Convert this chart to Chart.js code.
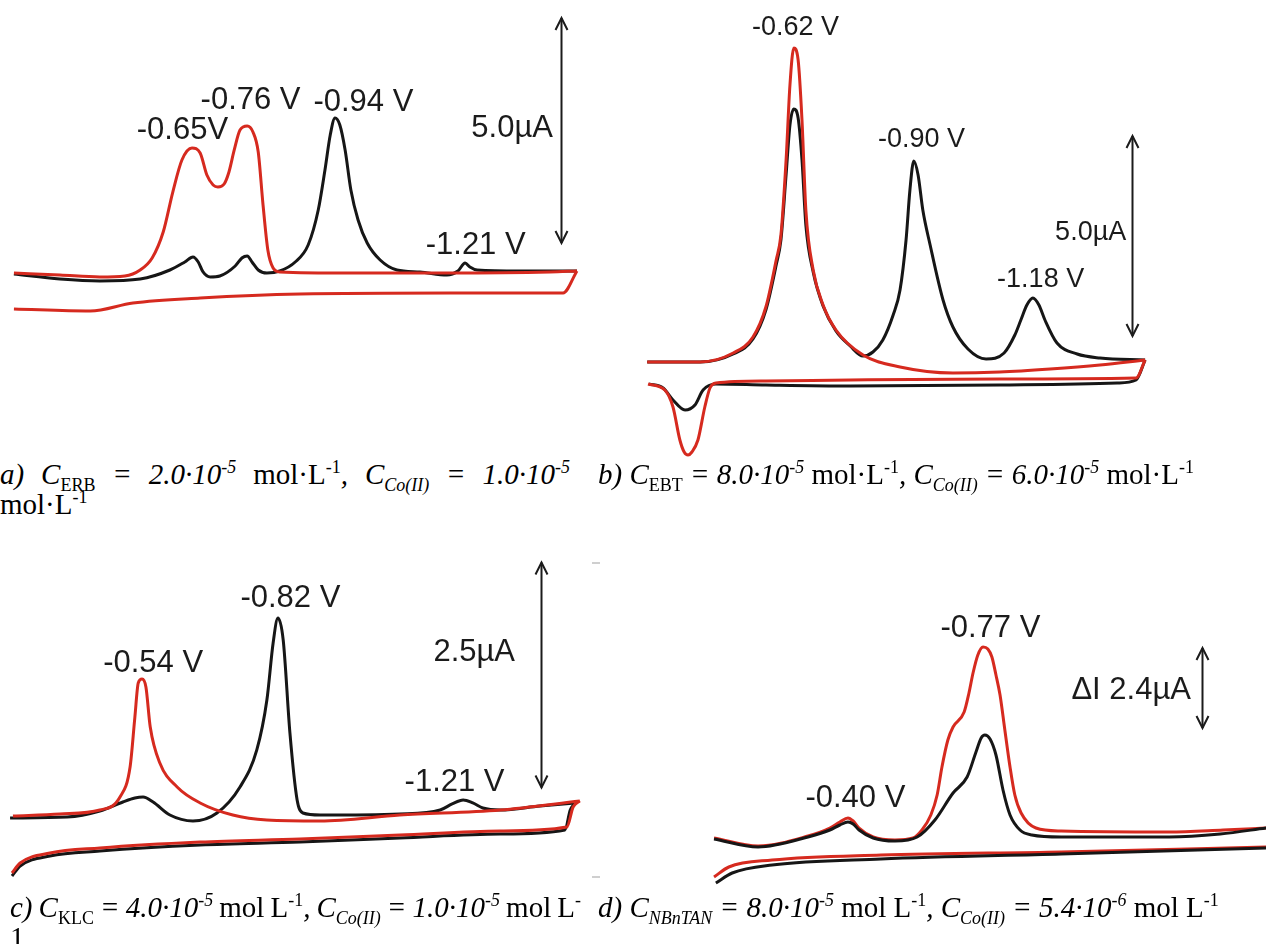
<!DOCTYPE html>
<html>
<head>
<meta charset="utf-8">
<script src="https://cdn.jsdelivr.net/npm/chart.js@4.4.1/dist/chart.umd.min.js"></script>
<style>
html, body { margin: 0; padding: 0; background: #fff; }
#page { position: relative; width: 1266px; height: 944px; overflow: hidden; background: #fff; }
canvas { position: absolute; }
.cap { position: absolute; font-family: 'Liberation Serif', serif; font-size: 29px; line-height: 30px; color: #000; white-space: nowrap; }
.cap sub, .cap sup { font-size: 62%; line-height: 0; }
.tick { position: absolute; width: 8px; height: 2px; background: #cfcfcf; }
</style>
</head>
<body>
<div id="page">
  <canvas id="chartA" width="633" height="450" style="left:0;top:0"></canvas>
  <canvas id="chartB" width="633" height="460" style="left:633px;top:0"></canvas>
  <canvas id="chartC" width="633" height="360" style="left:0;top:540px"></canvas>
  <canvas id="chartD" width="633" height="360" style="left:633px;top:540px"></canvas>

  <div class="cap" style="left:0;top:459px">
    <div class="fit" data-width="570"><i>a)</i> <i>C</i><sub>ERB</sub> <i>=</i> <i>2.0·10<sup>-5</sup></i> mol·L<sup>-1</sup><i>,</i> <i>C<sub>Co(II)</sub></i> <i>=</i> <i>1.0·10<sup>-5</sup></i></div>
    <div>mol·L<sup>-1</sup></div>
  </div>
  <div class="cap" style="left:598px;top:459px"><i>b) C</i><sub>EBT</sub><i> = 8.0·10<sup>-5</sup></i> mol·L<sup>-1</sup><i>, C<sub>Co(II)</sub> = 6.0·10<sup>-5</sup></i> mol·L<sup>-1</sup></div>
  <div class="cap" style="left:10px;top:892px">
    <div class="fit" data-width="571"><i>c) C</i><sub>KLC</sub><i> = 4.0·10<sup>-5</sup></i> mol L<sup>-1</sup><i>, C<sub>Co(II)</sub> = 1.0·10<sup>-5</sup></i> mol L<sup>-</sup></div>
    <div>1</div>
  </div>
  <div class="cap" style="left:598px;top:892px"><i>d) C<sub>NBnTAN</sub> = 8.0·10<sup>-5</sup></i> mol L<sup>-1</sup><i>, C<sub>Co(II)</sub> = 5.4·10<sup>-6</sup></i> mol L<sup>-1</sup></div>
  <div class="tick" style="left:592px;top:562px"></div>
  <div class="tick" style="left:592px;top:876px"></div>
</div>

<script>
// potentials in V, currents in µA
const RED = '#d62a1f';
const BLACK = '#161616';

// a) ERB + Co(II)
const aRedScan = [[-0.279,-0.067],[-0.375,-0.111],[-0.458,-0.156],[-0.510,-0.133],[-0.542,0],[-0.567,0.267],[-0.590,0.844],[-0.610,1.733],[-0.629,2.444],[-0.650,2.711],[-0.667,2.600],[-0.681,2.111],[-0.694,1.889],[-0.704,1.844],[-0.717,1.911],[-0.727,2.178],[-0.738,2.667],[-0.750,3.111],[-0.765,3.200],[-0.777,3.067],[-0.788,2.622],[-0.798,1.444],[-0.808,0.444],[-0.819,0.044],[-0.833,-0.044],[-0.979,-0.067],[-1.188,-0.067],[-1.396,-0.044],[-1.452,-0.022]];
const aRedReturn = [[-1.452,-0.022],[-1.423,-0.511],[-1.188,-0.511],[-0.875,-0.533],[-0.667,-0.622],[-0.527,-0.733],[-0.438,-0.911],[-0.279,-0.867]];
const aBlackScan = [[-0.279,-0.089],[-0.375,-0.200],[-0.458,-0.244],[-0.542,-0.200],[-0.604,0],[-0.635,0.178],[-0.652,0.289],[-0.663,0.178],[-0.673,-0.044],[-0.688,-0.156],[-0.708,-0.133],[-0.740,0.089],[-0.754,0.267],[-0.765,0.311],[-0.775,0.178],[-0.788,0],[-0.806,-0.067],[-0.833,-0.022],[-0.865,0.178],[-0.892,0.556],[-0.913,1.333],[-0.927,2.222],[-0.938,3.000],[-0.948,3.378],[-0.958,3.222],[-0.969,2.667],[-0.981,1.778],[-0.996,1.111],[-1.015,0.600],[-1.042,0.222],[-1.077,0],[-1.125,-0.044],[-1.181,-0.111],[-1.204,-0.022],[-1.219,0.156],[-1.229,0.067],[-1.244,0],[-1.333,-0.022],[-1.452,-0.022]];
const aPeakText = ['-0.65V', '-0.76 V', '-0.94 V', '-1.21 V'];
const aPeakE = [-0.630, -0.772, -1.007, -1.241];
const aPeakI = [3.111, 3.778, 3.733, 0.556];

// b) EBT + Co(II)
const bRedScan = [[-0.283,-0.05],[-0.406,-0.05],[-0.483,0.175],[-0.529,0.575],[-0.559,1.325],[-0.583,2.5],[-0.594,3.125],[-0.606,5.0],[-0.615,6.875],[-0.624,7.8],[-0.634,7.5],[-0.643,6.0],[-0.652,3.75],[-0.669,2.25],[-0.692,1.375],[-0.722,0.75],[-0.785,0.125],[-0.871,-0.175],[-0.994,-0.325],[-1.103,-0.3],[-1.220,-0.225],[-1.336,-0.125],[-1.441,0]];
const bRedReturn = [[-1.441,0],[-1.420,-0.45],[-1.103,-0.475],[-0.755,-0.5],[-0.559,-0.525],[-0.443,-0.575],[-0.429,-0.7],[-0.417,-1.175],[-0.401,-2.0],[-0.387,-2.3],[-0.378,-2.375],[-0.369,-2.3],[-0.359,-2.0],[-0.343,-1.175],[-0.324,-0.75],[-0.285,-0.6]];
const bBlackScan = [[-0.283,-0.05],[-0.406,-0.05],[-0.483,0.15],[-0.529,0.525],[-0.559,1.25],[-0.583,2.375],[-0.594,3.0],[-0.606,4.625],[-0.615,5.875],[-0.624,6.275],[-0.634,6.05],[-0.643,5.0],[-0.652,3.375],[-0.669,2.2],[-0.692,1.35],[-0.722,0.725],[-0.755,0.35],[-0.785,0.1],[-0.808,0.2],[-0.831,0.5],[-0.855,1.125],[-0.871,1.75],[-0.885,3.0],[-0.894,4.25],[-0.903,4.975],[-0.913,4.625],[-0.924,3.75],[-0.941,2.875],[-0.971,1.5],[-0.994,0.825],[-1.029,0.275],[-1.071,0.025],[-1.113,0.175],[-1.138,0.625],[-1.152,1.0],[-1.166,1.375],[-1.180,1.55],[-1.194,1.375],[-1.208,1.0],[-1.236,0.425],[-1.283,0.15],[-1.336,0.05],[-1.441,0]];
const bBlackReturn = [[-1.441,0],[-1.420,-0.5],[-1.376,-0.575],[-1.103,-0.625],[-0.755,-0.65],[-0.559,-0.625],[-0.443,-0.6],[-0.413,-0.75],[-0.394,-1.125],[-0.371,-1.25],[-0.343,-1.0],[-0.320,-0.7],[-0.287,-0.6]];
const bPeakText = ['-0.62 V', '-0.90 V', '-1.18 V'];
const bPeakE = [-0.628, -0.921, -1.198];
const bPeakI = [8.3, 5.5, 2.0];

// c) KLC + Co(II)
const cRedScan = [[-0.272,-0.067],[-0.370,-0.044],[-0.453,0],[-0.495,0.144],[-0.516,0.478],[-0.526,1.033],[-0.533,1.411],[-0.541,1.456],[-0.549,1.367],[-0.558,0.922],[-0.578,0.522],[-0.614,0.256],[-0.662,0.078],[-0.730,-0.056],[-0.801,-0.111],[-0.912,-0.122],[-1.078,-0.056],[-1.287,0],[-1.453,0.1]];
const cRedReturn = [[-1.453,0.1],[-1.439,0.033],[-1.426,-0.189],[-1.287,-0.233],[-1.078,-0.278],[-0.870,-0.322],[-0.662,-0.356],[-0.453,-0.422],[-0.349,-0.478],[-0.287,-0.589],[-0.270,-0.7]];
const cBlackScan = [[-0.266,-0.089],[-0.385,-0.078],[-0.453,-0.011],[-0.501,0.089],[-0.526,0.133],[-0.543,0.144],[-0.564,0.089],[-0.599,-0.056],[-0.647,-0.122],[-0.697,-0.033],[-0.745,0.256],[-0.780,0.667],[-0.801,1.222],[-0.814,1.856],[-0.824,2.133],[-0.835,1.889],[-0.849,0.856],[-0.864,0.111],[-0.876,-0.033],[-0.912,-0.056],[-1.078,-0.044],[-1.162,0],[-1.187,0.067],[-1.210,0.111],[-1.230,0.078],[-1.251,0.022],[-1.287,0],[-1.370,0.044],[-1.443,0.078]];
const cBlackReturn = [[-1.443,0.078],[-1.433,0],[-1.422,-0.222],[-1.287,-0.267],[-1.078,-0.311],[-0.870,-0.356],[-0.662,-0.389],[-0.453,-0.456],[-0.349,-0.511],[-0.287,-0.622],[-0.270,-0.733]];
const cPeakText = ['-0.54 V', '-0.82 V', '-1.21 V'];
const cPeakE = [-0.564, -0.850, -1.192];
const cPeakI = [1.633, 2.356, 0.311];

// d) NBnTAN + Co(II)
const dRedScan = [[-0.039,0.06],[-0.158,-0.18],[-0.293,0.12],[-0.352,0.36],[-0.379,0.54],[-0.401,0.66],[-0.415,0.57],[-0.431,0.36],[-0.469,0.09],[-0.528,0],[-0.577,0.06],[-0.601,0.30],[-0.625,0.75],[-0.642,1.35],[-0.655,2.19],[-0.671,3.00],[-0.685,3.39],[-0.715,3.84],[-0.728,4.41],[-0.739,5.01],[-0.752,5.55],[-0.766,5.79],[-0.779,5.73],[-0.790,5.49],[-0.801,4.95],[-0.812,4.35],[-0.825,3.30],[-0.839,2.19],[-0.852,1.35],[-0.869,0.81],[-0.909,0.36],[-0.977,0.27],[-1.269,0.24],[-1.415,0.30],[-1.531,0.36]];
const dRedReturn = [[-0.039,-1.11],[-0.079,-0.81],[-0.196,-0.60],[-0.490,-0.45],[-0.977,-0.36],[-1.531,-0.21]];
const dBlackScan = [[-0.039,0.03],[-0.158,-0.21],[-0.293,0.09],[-0.352,0.30],[-0.379,0.45],[-0.401,0.54],[-0.415,0.48],[-0.431,0.30],[-0.469,0.06],[-0.528,-0.03],[-0.588,0.09],[-0.636,0.60],[-0.685,1.41],[-0.723,1.89],[-0.747,2.64],[-0.761,3.06],[-0.771,3.15],[-0.785,3.03],[-0.801,2.55],[-0.820,1.50],[-0.839,0.75],[-0.866,0.30],[-0.898,0.15],[-0.977,0.09],[-1.269,0.09],[-1.407,0.18],[-1.531,0.36]];
const dBlackReturn = [[-0.044,-1.29],[-0.088,-0.99],[-0.196,-0.75],[-0.490,-0.57],[-0.977,-0.42],[-1.531,-0.24]];
const dPeakText = ['-0.40 V', '-0.77 V'];
const dPeakE = [-0.421, -0.786];
const dPeakI = [1.26, 6.36];

// current scale bars: text, its position, bar potential, bar low/high current
const barText = ['5.0µA', '5.0µA', '2.5µA', 'ΔI 2.4µA'];
const barTextE = [-1.402, -1.397, -1.318, -1.328];
const barTextI = [3.156, 3.175, 1.756, 4.5];
const barE = [-1.419, -1.410, -1.372, -1.358];
const barLow = [0.6, 0.6, 0.25, 3.36];
const barHigh = [5.6, 5.6, 2.75, 5.76];

function curve(points, color) {
    return {
        data: points.map(p => ({ x: p[0], y: p[1] })),
        showLine: true,
        borderColor: color,
        borderWidth: 3,
        pointRadius: 0,
        cubicInterpolationMode: 'monotone',
        fill: false,
        clip: false
    };
}

function drawArrowHead(ctx, x, y, dir) {
    ctx.beginPath();
    ctx.moveTo(x - 6, y + dir * 12);
    ctx.lineTo(x, y);
    ctx.lineTo(x + 6, y + dir * 12);
    ctx.stroke();
}

const marksPlugin = {
    id: 'marks',
    afterDatasetsDraw(chart, args, opts) {
        const { ctx } = chart;
        const xs = chart.scales.x;
        const ys = chart.scales.y;
        const k = opts.bar;
        ctx.save();
        ctx.fillStyle = '#1b1b1b';
        ctx.strokeStyle = '#1b1b1b';
        ctx.font = `${opts.size}px "Liberation Sans", Arial, sans-serif`;
        ctx.textBaseline = 'middle';
        ctx.textAlign = 'center';
        opts.text.forEach((t, i) => {
            ctx.fillText(t, xs.getPixelForValue(opts.e[i]), ys.getPixelForValue(opts.i[i]));
        });
        ctx.textAlign = 'right';
        ctx.fillText(barText[k], xs.getPixelForValue(barTextE[k]), ys.getPixelForValue(barTextI[k]));

        const ax = Math.round(xs.getPixelForValue(barE[k])) + 0.5;
        const top = ys.getPixelForValue(barHigh[k]);
        const bottom = ys.getPixelForValue(barLow[k]);
        ctx.lineWidth = 2;
        ctx.beginPath();
        ctx.moveTo(ax, top);
        ctx.lineTo(ax, bottom);
        ctx.stroke();
        drawArrowHead(ctx, ax, top, 1);
        drawArrowHead(ctx, ax, bottom, -1);
        ctx.restore();
    }
};

function makePanel(id, xRange, yRange, datasets, marks) {
    const ctx = document.getElementById(id).getContext('2d');
    return new Chart(ctx, {
        type: 'scatter',
        data: { datasets },
        options: {
            responsive: false,
            animation: false,
            devicePixelRatio: 1,
            layout: { padding: 0 },
            plugins: {
                legend: { display: false },
                tooltip: { enabled: false },
                marks
            },
            scales: {
                x: { type: 'linear', display: false, reverse: true, min: xRange[0], max: xRange[1] },
                y: { type: 'linear', display: false, min: yRange[0], max: yRange[1] }
            }
        },
        plugins: [marksPlugin]
    });
}

// stretch the first caption lines to the column width, like justified text
function fitCaptionLines() {
    document.querySelectorAll('.fit').forEach(el => {
        el.style.display = 'inline-block';
        const natural = el.getBoundingClientRect().width;
        const gaps = el.textContent.replace(/\s+/g, ' ').trim().split(' ').length - 1;
        if (gaps > 0) el.style.wordSpacing = ((Number(el.dataset.width) - natural) / gaps) + 'px';
        el.style.display = 'block';
    });
}

document.addEventListener('DOMContentLoaded', () => {
    fitCaptionLines();

    // first dataset is painted on top
    makePanel('chartA', [-1.56875, -0.25], [-4, 6],
        [curve(aRedScan, RED), curve(aRedReturn, RED), curve(aBlackScan, BLACK)],
        { text: aPeakText, e: aPeakE, i: aPeakI, size: 31, bar: 0 });

    makePanel('chartB', [-1.722093, -0.25], [-2.5, 9],
        [curve(bRedScan, RED), curve(bRedReturn, RED), curve(bBlackScan, BLACK), curve(bBlackReturn, BLACK)],
        { text: bPeakText, e: bPeakE, i: bPeakI, size: 27, bar: 1 });

    makePanel('chartC', [-1.56375, -0.245], [-1, 3],
        [curve(cRedScan, RED), curve(cRedReturn, RED), curve(cBlackScan, BLACK), curve(cBlackReturn, BLACK)],
        { text: cPeakText, e: cPeakE, i: cPeakI, size: 31, bar: 2 });

    makePanel('chartD', [-1.530811, 0.18], [-1.8, 9],
        [curve(dBlackScan, BLACK), curve(dBlackReturn, BLACK), curve(dRedScan, RED), curve(dRedReturn, RED)],
        { text: dPeakText, e: dPeakE, i: dPeakI, size: 31, bar: 3 });
});
</script>
</body>
</html>
